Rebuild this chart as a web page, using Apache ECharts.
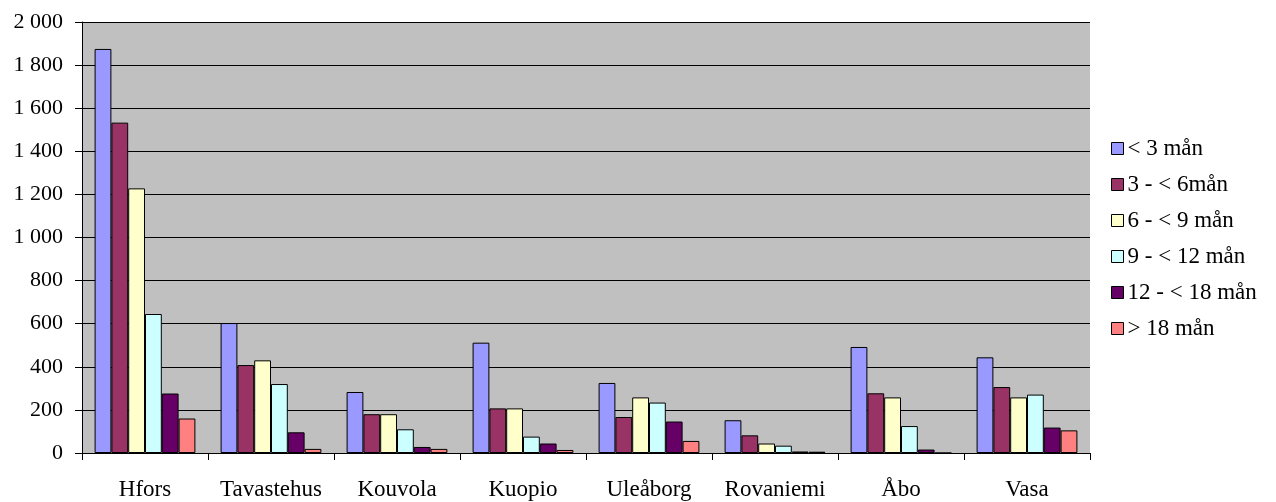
<!DOCTYPE html>
<html><head><meta charset="utf-8">
<script src="https://cdn.jsdelivr.net/npm/echarts@6/dist/echarts.min.js"></script>
<style>html,body{margin:0;padding:0;background:#fff}#c{width:1276px;height:502px}</style>
</head><body><div id="c"></div>
<script>
const categories = ['Hfors','Tavastehus','Kouvola','Kuopio','Uleåborg','Rovaniemi','Åbo','Vasa'];
const seriesNames = ['< 3 mån','3 - < 6mån','6 - < 9 mån','9 - < 12 mån','12 - < 18 mån','> 18 mån'];
const lt3 = [1875, 603, 283, 512, 325, 152, 492, 444];
const m3to6 = [1533, 408, 180, 207, 167, 82, 277, 306];
const m6to9 = [1228, 430, 180, 207, 258, 44, 258, 258];
const m9to12 = [645, 320, 110, 76, 234, 34, 125, 271];
const m12to18 = [276, 96, 28, 44, 146, 7, 16, 118];
const gt18 = [160, 19, 19, 14, 56, 6, 0, 105];
const yTicks = [0, 2000, 200];
const colors = ['#9999FF','#993366','#FFFFCC','#CCFFFF','#660066','#FF8080'];
const values = [lt3, m3to6, m6to9, m9to12, m12to18, gt18];
const font = '"Liberation Serif", "Times New Roman", serif';
const chart = echarts.init(document.getElementById('c'));
chart.setOption({
  animation: false,
  textStyle: {fontFamily: font, color: '#000'},
  grid: {left: 82, right: 186, top: 22, bottom: 49, show: true, backgroundColor: '#C0C0C0', borderWidth: 0},
  legend: {
    orient: 'vertical', left: 1111, top: 137, itemWidth: 12, itemHeight: 12, itemGap: 13,
    icon: 'rect', padding: 0,
    itemStyle: {borderColor: '#000', borderWidth: 1},
    textStyle: {fontFamily: font, fontSize: 23, color: '#000', padding: [0,0,0,-1]},
    data: seriesNames
  },
  xAxis: {
    type: 'category', data: categories,
    axisLine: {lineStyle: {color: '#000', width: 1}},
    axisTick: {show: true, length: 7, lineStyle: {color: '#000'}},
    axisLabel: {fontFamily: font, fontSize: 23, color: '#000', margin: 25, interval: 0}
  },
  yAxis: {
    type: 'value', min: yTicks[0], max: yTicks[1], interval: yTicks[2],
    axisLine: {show: true, lineStyle: {color: '#000', width: 1}},
    axisTick: {show: true, length: 7, lineStyle: {color: '#000'}},
    axisLabel: {fontFamily: font, fontSize: 22, color: '#000', margin: 19,
      formatter: v => String(v).replace(/\B(?=(\d{3})+(?!\d))/g, ' ')},
    splitLine: {show: true, lineStyle: {color: '#000', width: 1}}
  },
  series: seriesNames.map((n, i) => ({
    name: n, type: 'bar', data: values[i],
    barGap: '0%', barCategoryGap: '20%',
    itemStyle: {color: colors[i], borderColor: '#000', borderWidth: 1}
  }))
});
</script></body></html>
